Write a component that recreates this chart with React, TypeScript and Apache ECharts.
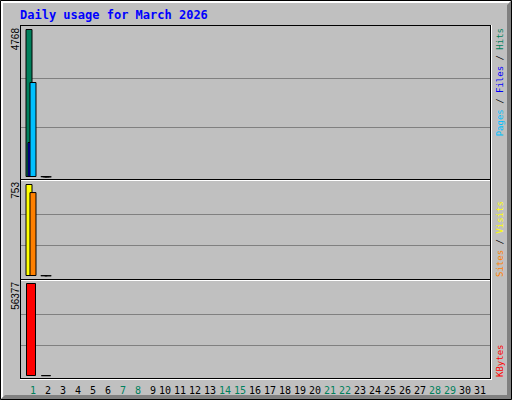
import React, { useEffect, useRef } from 'react';
import * as echarts from 'echarts';

const title = 'Daily usage for March 2026';

const days = [
  1, 2, 3, 4, 5, 6, 7, 8, 9, 10, 11, 12, 13, 14, 15, 16,
  17, 18, 19, 20, 21, 22, 23, 24, 25, 26, 27, 28, 29, 30, 31,
];
const weekendDays = [1, 7, 8, 14, 15, 21, 22, 28, 29];

const hits = [4768, 23, 0, 0, 0, 0, 0, 0, 0, 0, 0, 0, 0, 0, 0, 0, 0, 0, 0, 0, 0, 0, 0, 0, 0, 0, 0, 0, 0, 0, 0];
const files = [1128, 18, 0, 0, 0, 0, 0, 0, 0, 0, 0, 0, 0, 0, 0, 0, 0, 0, 0, 0, 0, 0, 0, 0, 0, 0, 0, 0, 0, 0, 0];
const pages = [3060, 12, 0, 0, 0, 0, 0, 0, 0, 0, 0, 0, 0, 0, 0, 0, 0, 0, 0, 0, 0, 0, 0, 0, 0, 0, 0, 0, 0, 0, 0];
const visits = [753, 5, 0, 0, 0, 0, 0, 0, 0, 0, 0, 0, 0, 0, 0, 0, 0, 0, 0, 0, 0, 0, 0, 0, 0, 0, 0, 0, 0, 0, 0];
const sites = [687, 4, 0, 0, 0, 0, 0, 0, 0, 0, 0, 0, 0, 0, 0, 0, 0, 0, 0, 0, 0, 0, 0, 0, 0, 0, 0, 0, 0, 0, 0];
const kbytes = [56377, 420, 0, 0, 0, 0, 0, 0, 0, 0, 0, 0, 0, 0, 0, 0, 0, 0, 0, 0, 0, 0, 0, 0, 0, 0, 0, 0, 0, 0, 0];

const GREY = '#C0C0C0';
const DKGREY = '#808080';
const HIT_COLOR = '#00805C';
const FILE_COLOR = '#0000FF';
const PAGE_COLOR = '#00C0FF';
const VISIT_COLOR = '#FFFF00';
const SITE_COLOR = '#FF8000';
const KBYTE_COLOR = '#FF0000';

const MONO = '"DejaVu Sans Mono", monospace';

// day 1 sits 10px into the plot, 15px per day
const X_MIN = 1 - 10 / 15;
const X_MAX = X_MIN + 469 / 15;

const points = (vals: number[]) =>
  vals.map((v, i) => [days[i], v]).filter((p) => p[1] > 0);

const hline = (x1: number, x2: number, y: number, color: string) => ({
  type: 'line',
  z: 100,
  shape: { x1, y1: y, x2, y2: y },
  style: { stroke: color, lineWidth: 1 },
});
const vline = (x: number, y1: number, y2: number, color: string) => ({
  type: 'line',
  z: 100,
  shape: { x1: x, y1, x2: x, y2 },
  style: { stroke: color, lineWidth: 1 },
});

const vtext = (x: number, y: number, text: string, align: string, rich?: any) => ({
  type: 'text',
  z: 100,
  x,
  y,
  rotation: Math.PI / 2,
  style: {
    text,
    font: `9px ${MONO}`,
    fill: '#000',
    align,
    textAlign: align,
    verticalAlign: 'middle',
    textVerticalAlign: 'middle',
    rich,
  },
});

const richItem = (color: string) => ({ fill: color, fontFamily: MONO, fontSize: 9 });

export default function App() {
  const chartRef = useRef<HTMLDivElement>(null);

  useEffect(() => {
    document.body.style.margin = '0';
    if (!chartRef.current) return;
    const chart = echarts.init(chartRef.current, null, { renderer: 'svg' });

    const maxHits = Math.max(...hits);
    const maxVisits = Math.max(...visits);
    const maxKbytes = Math.max(...kbytes);

    const valueY = (gridIndex: number, max: number) => ({
      type: 'value',
      gridIndex,
      min: 0,
      max,
      interval: max / 3,
      axisLine: { show: false },
      axisTick: { show: false },
      axisLabel: { show: false },
      splitLine: {
        show: true,
        showMinLine: false,
        showMaxLine: false,
        lineStyle: { color: DKGREY, width: 1 },
      },
    });
    const valueX = (gridIndex: number) => ({
      type: 'value',
      gridIndex,
      min: X_MIN,
      max: X_MAX,
      show: false,
      splitLine: { show: false },
    });

    const bar = (name: string, data: number[], color: string, axis: number, width: number, gap: string) => ({
      name,
      type: 'bar',
      xAxisIndex: axis,
      yAxisIndex: axis,
      data: points(data),
      barWidth: width,
      barGap: gap,
      itemStyle: { color, borderColor: '#000', borderWidth: 1 },
    });

    const option: any = {
      animation: false,
      backgroundColor: GREY,
      title: {
        text: title,
        left: 20,
        top: 9,
        padding: 0,
        textStyle: { color: '#0000FF', fontFamily: MONO, fontSize: 12, fontWeight: 'bold' },
      },
      grid: [
        { left: 21, right: 22, top: 29, height: 148 },
        { left: 21, right: 22, top: 184, height: 92 },
        { left: 21, right: 22, top: 283, height: 93 },
        { left: 22.5, width: 465, top: 380, height: 1 },
      ],
      xAxis: [
        valueX(0),
        valueX(1),
        valueX(2),
        {
          type: 'category',
          gridIndex: 3,
          data: days,
          axisLine: { show: false },
          axisTick: { show: false },
          axisLabel: {
            interval: 0,
            margin: 4,
            fontFamily: MONO,
            fontSize: 10,
            formatter: (v: string) => (Number(v) < 10 ? '\u00a0' + v : v),
            color: (v: string) => (weekendDays.includes(Number(v)) ? HIT_COLOR : '#000'),
          },
        },
      ],
      yAxis: [
        valueY(0, maxHits),
        valueY(1, maxVisits),
        valueY(2, maxKbytes),
        { type: 'value', gridIndex: 3, show: false },
      ],
      series: [
        bar('Hits', hits, HIT_COLOR, 0, 7, '-71.43%'),
        bar('Files', files, FILE_COLOR, 0, 7, '-71.43%'),
        bar('Pages', pages, PAGE_COLOR, 0, 7, '-71.43%'),
        bar('Visits', visits, VISIT_COLOR, 1, 7, '-42.86%'),
        bar('Sites', sites, SITE_COLOR, 1, 7, '-42.86%'),
        bar('KBytes', kbytes, KBYTE_COLOR, 2, 10, '0%'),
      ],
      graphic: [
        // outer bevel
        {
          type: 'polygon',
          z: 90,
          shape: { points: [[1, 1], [511, 1], [509, 3], [3, 3], [3, 397], [1, 399]] },
          style: { fill: '#FFFFFF' },
        },
        {
          type: 'polygon',
          z: 91,
          shape: { points: [[511, 1], [511, 399], [1, 399], [5, 395], [507, 395], [507, 5]] },
          style: { fill: DKGREY },
        },
        {
          type: 'rect',
          z: 92,
          shape: { x: 0.5, y: 0.5, width: 511, height: 399 },
          style: { fill: 'none', stroke: '#000', lineWidth: 1 },
        },
        // inner box
        hline(20, 491, 25.5, '#000'),
        vline(20.5, 25, 379, '#000'),
        hline(20, 491, 378.5, '#000'),
        vline(490.5, 25, 379, '#000'),
        hline(20, 492, 379.5, '#FFFFFF'),
        vline(491.5, 25, 380, '#FFFFFF'),
        hline(21, 490, 179.5, '#000'),
        hline(21, 490, 180.5, '#FFFFFF'),
        hline(21, 490, 279.5, '#000'),
        hline(21, 490, 280.5, '#FFFFFF'),
        // panel maxima
        { ...vtext(15.5, 28, String(maxHits), 'right'), style: { ...vtext(0, 0, '', 'right').style, text: String(maxHits), font: '10px "Liberation Sans"' } },
        { ...vtext(15.5, 182, String(maxVisits), 'right'), style: { ...vtext(0, 0, '', 'right').style, text: String(maxVisits), font: '10px "Liberation Sans"' } },
        { ...vtext(15.5, 282, String(maxKbytes), 'right'), style: { ...vtext(0, 0, '', 'right').style, text: String(maxKbytes), font: '10px "Liberation Sans"' } },
        // legends
        vtext(500, 28, '{p|Pages}{s|\u00a0/\u00a0}{f|Files}{s|\u00a0/\u00a0}{h|Hits}', 'right', {
          p: richItem(PAGE_COLOR),
          f: richItem(FILE_COLOR),
          h: richItem(HIT_COLOR),
          s: richItem('#000'),
        }),
        vtext(500, 277, '{st|Sites}{s|\u00a0/\u00a0}{v|Visits}', 'left', {
          st: richItem(SITE_COLOR),
          v: richItem(VISIT_COLOR),
          s: richItem('#000'),
        }),
        vtext(500, 377, '{k|KBytes}', 'left', { k: richItem(KBYTE_COLOR) }),
      ],
    };

    chart.setOption(option);
    return () => chart.dispose();
  }, []);

  return <div ref={chartRef} style={{ width: 512, height: 400 }} />;
}
